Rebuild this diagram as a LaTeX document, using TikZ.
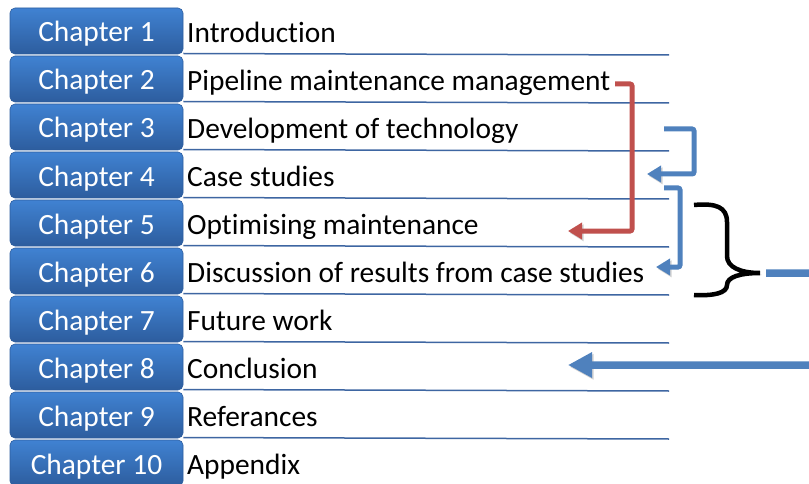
\documentclass[tikz,border=0pt]{standalone}
\usepackage{fontspec}
\setmainfont{Carlito}[Ligatures={NoCommon,NoRequired}]
\usepackage{tikz}
\usetikzlibrary{arrows.meta}
\definecolor{chaptop}{RGB}{64,130,210}
\definecolor{chapbot}{RGB}{45,93,158}
\definecolor{rulecol}{RGB}{62,102,162}
\definecolor{linkblue}{RGB}{79,129,189}
\definecolor{linkred}{RGB}{192,80,77}

\begin{document}
\begin{tikzpicture}[x=1pt,y=-1pt,
		chapbox/.style={rounded corners=5pt,top color=chaptop,bottom color=chapbot,draw=chapbot,line width=0.6pt,
			minimum width=173pt,minimum height=46pt,inner sep=0pt,text height=22pt,text depth=0pt,
			text=white,font=\fontsize{29.4}{33}\selectfont},
		chaptitle/.style={anchor=base west,inner sep=0pt,font=\fontsize{29.4}{33}\selectfont},
		rowrule/.style={draw=rulecol,line width=1.5pt},
		shade/.style={preaction={draw=black,opacity=0.18,transform canvas={shift={(1.5pt,-1.8pt)}}}},
		link/.style={shade,line width=5pt,rounded corners=2pt,-{Triangle[length=14pt,width=16pt]}}]
	\useasboundingbox (0,0) rectangle (809,484);
	% chapter boxes, titles and the rules under them
	\foreach \t [count=\k, evaluate=\k as \y using 31+48*(\k-1)] in {Introduction,Pipeline maintenance management,
		Development of technology,Case studies,Optimising maintenance,Discussion of results from case studies,
		Future work,Conclusion,Referances,Appendix}{
		\node[chapbox] (ch\k) at (96.5,\y) {Chapter \k};
		\node[chaptitle] (ttl\k) at (187,\y+11.5) {\t};
		\draw[rowrule] (ch\k.south east) ++(0,-0.8) -- (669,\y+24);
	}
	% arrow ends
	\coordinate (redstart) at (615,84);
	\coordinate (redend) at (568,231);
	\coordinate (bluestart) at (664,129);
	\coordinate (blueend) at (647,174);
	\coordinate (casestart) at (664,188);
	\coordinate (caseend) at (656,267);
	\coordinate (bracetip) at (760,273);
	\coordinate (concl) at (568,365);
	% links between chapters
	\draw[link,draw=linkred] (redstart) -- (632,84) |- (redend);
	\draw[link,draw=linkblue] (bluestart) -- (694,129) |- (blueend);
	\draw[link,draw=linkblue] (casestart) -- (680,188) |- (caseend);
	% brace
	\draw[shade,line width=4.5pt] (694,205) .. controls (716,203) and (727,207) .. (727,222) -- (727,256)
		.. controls (727,267) and (740,273) .. (bracetip)
		.. controls (740,273) and (727,277) .. (727,285) .. controls (727,293) and (714,296) .. (694,295);
	\draw[link,draw=linkblue,line width=7.5pt,-{Triangle[length=24pt,width=24pt]}]
		(766,273) -- (814,273) |- (concl);
\end{tikzpicture}
\end{document}
